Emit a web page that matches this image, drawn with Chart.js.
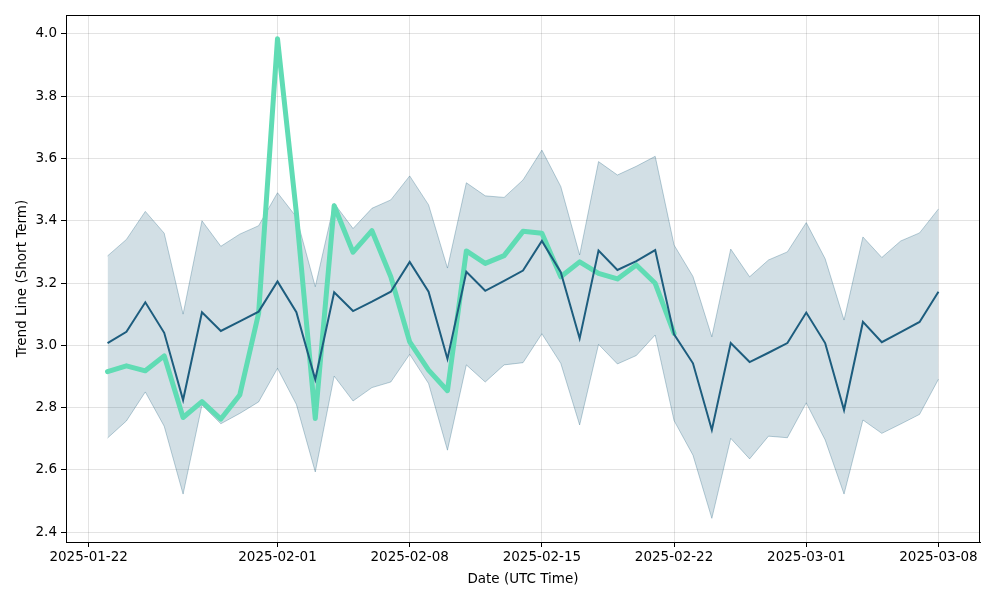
<!DOCTYPE html>
<html>
<head>
<meta charset="utf-8">
<script src="https://cdn.jsdelivr.net/npm/chart.js@4/dist/chart.umd.min.js"></script>
<style>
  html, body { margin: 0; padding: 0; background: #fff; }
  #wrap { width: 1000px; height: 600px; position: relative; }
</style>
</head>
<body>
<div id="wrap"><canvas id="chart" width="1000" height="600"></canvas></div>
<script>
// daily dates of the series
const dates = [
    '2025-01-23', '2025-01-24', '2025-01-25', '2025-01-26', '2025-01-27', '2025-01-28', '2025-01-29',
    '2025-01-30', '2025-01-31', '2025-02-01', '2025-02-02', '2025-02-03', '2025-02-04', '2025-02-05',
    '2025-02-06', '2025-02-07', '2025-02-08', '2025-02-09', '2025-02-10', '2025-02-11', '2025-02-12',
    '2025-02-13', '2025-02-14', '2025-02-15', '2025-02-16', '2025-02-17', '2025-02-18', '2025-02-19',
    '2025-02-20', '2025-02-21', '2025-02-22', '2025-02-23', '2025-02-24', '2025-02-25', '2025-02-26',
    '2025-02-27', '2025-02-28', '2025-03-01', '2025-03-02', '2025-03-03', '2025-03-04', '2025-03-05',
    '2025-03-06', '2025-03-07', '2025-03-08'
];

const trendMean = [
    3.007, 3.043, 3.138, 3.040, 2.824, 3.106, 3.046, 3.077, 3.108, 3.205, 3.106, 2.890, 3.170, 3.110,
    3.140, 3.172, 3.268, 3.172, 2.956, 3.236, 3.175, 3.207, 3.240, 3.335, 3.235, 3.022, 3.304, 3.242,
    3.270, 3.306, 3.035, 2.942, 2.728, 3.007, 2.946, 2.976, 3.007, 3.105, 3.007, 2.792, 3.075, 3.010,
    3.042, 3.075, 3.172
];

const trendUpper = [
    3.287, 3.340, 3.430, 3.360, 3.100, 3.400, 3.318, 3.357, 3.384, 3.490, 3.412, 3.188, 3.456, 3.375,
    3.440, 3.467, 3.544, 3.451, 3.248, 3.522, 3.480, 3.475, 3.531, 3.627, 3.510, 3.290, 3.590, 3.547,
    3.575, 3.607, 3.322, 3.221, 3.027, 3.309, 3.220, 3.274, 3.300, 3.394, 3.278, 3.081, 3.348, 3.282,
    3.335, 3.361, 3.438
];

const trendLower = [
    2.702, 2.757, 2.850, 2.740, 2.522, 2.808, 2.748, 2.781, 2.818, 2.926, 2.810, 2.593, 2.901, 2.821,
    2.864, 2.882, 2.971, 2.877, 2.663, 2.937, 2.882, 2.937, 2.944, 3.037, 2.942, 2.744, 3.003, 2.940,
    2.967, 3.033, 2.758, 2.647, 2.444, 2.701, 2.635, 2.708, 2.703, 2.815, 2.696, 2.522, 2.760, 2.717,
    2.747, 2.778, 2.891
];

// thick green line, stops on 2025-02-22
const trendActual = [
    2.915, 2.934, 2.918, 2.966, 2.768, 2.819, 2.763, 2.840, 3.103, 3.985, 3.425, 2.765, 3.448, 3.299,
    3.368, 3.220, 3.011, 2.920, 2.854, 3.303, 3.263, 3.288, 3.366, 3.360, 3.220, 3.268, 3.231, 3.213,
    3.258, 3.199, 3.038
];

const xTickDates = ['2025-01-22', '2025-02-01', '2025-02-08', '2025-02-15', '2025-02-22', '2025-03-01', '2025-03-08'];
const yTicks = [2.4, 2.6, 2.8, 3.0, 3.2, 3.4, 3.6, 3.8, 4.0];

const DAY = 86400000;
const dayOf = s => Date.parse(s + 'T00:00:00Z') / DAY;
const pts = arr => arr.map((v, i) => ({ x: dayOf(dates[i]), y: v }));

const FONT = { family: '"DejaVu Sans", sans-serif', size: 13.5 };
const GRID = 'rgba(0,0,0,0.11)';

const frame = {
    id: 'frame',
    afterDraw(chart) {
        const { ctx, chartArea: a } = chart;
        ctx.save();
        ctx.strokeStyle = '#000';
        ctx.lineWidth = 1;
        ctx.strokeRect(Math.round(a.left) + 0.5, Math.round(a.top) + 0.5,
            Math.round(a.right - a.left) - 1, Math.round(a.bottom - a.top));
        ctx.restore();
    }
};

const ctx = document.getElementById('chart').getContext('2d');
new Chart(ctx, {
    type: 'line',
    data: {
        datasets: [
            { data: pts(trendMean), borderColor: '#1d5d7e', borderWidth: 2, pointRadius: 0, fill: false },
            { data: pts(trendActual), borderColor: '#60dcb4', borderWidth: 5, pointRadius: 0, fill: false,
              borderJoinStyle: 'round', borderCapStyle: 'round' },
            { data: pts(trendUpper), borderColor: 'rgba(31,95,127,0.3)', borderWidth: 1, pointRadius: 0,
              fill: '+1', backgroundColor: 'rgba(31,95,127,0.2)' },
            { data: pts(trendLower), borderColor: 'rgba(31,95,127,0.3)', borderWidth: 1, pointRadius: 0, fill: false }
        ]
    },
    options: {
        responsive: false,
        animation: false,
        events: [],
        layout: { padding: { top: 15, right: 20, left: 0, bottom: 0 } },
        plugins: { legend: { display: false }, tooltip: { enabled: false } },
        elements: { line: { tension: 0 } },
        scales: {
            x: {
                type: 'linear',
                min: dayOf(dates[0]) - 2.2,
                max: dayOf(dates[dates.length - 1]) + 2.2,
                afterBuildTicks: axis => { axis.ticks = xTickDates.map(d => ({ value: dayOf(d) })); },
                afterFit: axis => { axis.height = 58; },
                ticks: {
                    color: '#000', font: FONT, padding: 2, maxRotation: 0, autoSkip: false,
                    callback: v => new Date(v * DAY).toISOString().slice(0, 10)
                },
                grid: { color: GRID, tickColor: '#000', tickLength: 5 },
                border: { color: '#000' },
                title: { display: true, text: 'Date (UTC Time)', color: '#000', font: FONT, padding: { top: 2, bottom: 12 } }
            },
            y: {
                min: 2.368,
                max: 4.061,
                afterBuildTicks: axis => { axis.ticks = yTicks.map(v => ({ value: v })); },
                afterFit: axis => { axis.width = 66; },
                ticks: { color: '#000', font: FONT, padding: 4, callback: v => v.toFixed(1) },
                grid: { color: GRID, tickColor: '#000', tickLength: 5 },
                border: { color: '#000' },
                title: { display: true, text: 'Trend Line (Short Term)', color: '#000', font: FONT, padding: { top: 14, bottom: 0 } }
            }
        }
    },
    plugins: [frame]
});
</script>
</body>
</html>
